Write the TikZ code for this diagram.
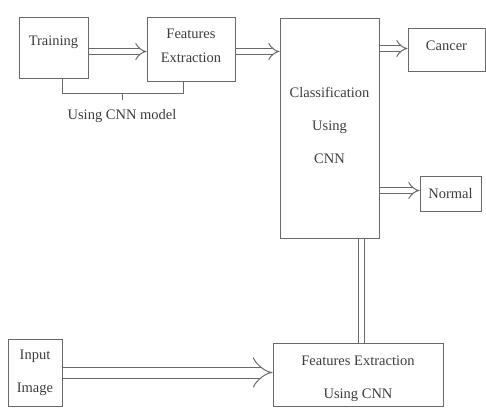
\documentclass[tikz,border=0pt]{standalone}
\usepackage{fontspec}
\setmainfont{Liberation Serif}
\usetikzlibrary{calc,arrows,positioning,backgrounds}
\definecolor{boxgray}{RGB}{105,105,105}
\definecolor{textgray}{RGB}{60,60,60}

\begin{document}
\begin{tikzpicture}[x=1pt,y=-1pt,
  block/.style={rectangle, draw=boxgray, line width=1pt, text=textgray, align=center, inner sep=0pt, font=\fontsize{14.5}{17}\selectfont},
  dblarrow/.style={draw=boxgray, double, double distance=5pt, line width=1pt, -implies}
]
  \useasboundingbox (0,0) rectangle (486,407);

  \node[block, minimum width=69pt, minimum height=61pt, text height=10.5pt, text depth=14pt] (train) at (53.5,47.5) {Training};
  \node[block, minimum width=88pt, minimum height=64pt, font=\fontsize{14.5}{24}\selectfont] (feat) at (191,49) {Features\\Extraction\\[-17pt]};
  \node[block, minimum width=99pt, minimum height=220pt, font=\fontsize{14.5}{33}\selectfont] (cls) at (329.5,128.5) {Classification\\Using\\CNN\\[-26pt]};
  \node[block, minimum width=77pt, minimum height=43pt, text height=10.5pt, text depth=9pt] (cancer) at (446.5,49.5) {Cancer};
  \node[block, minimum width=61pt, minimum height=35pt] (normal) at (450.5,193.5) {Normal};
  \node[block, minimum width=54pt, minimum height=67pt, font=\fontsize{14.5}{33}\selectfont] (input) at (35,372.5) {Input\\Image};
  \node[block, minimum width=170pt, minimum height=63pt, font=\fontsize{14.5}{33}\selectfont] (fcnn) at (358,374.5) {\rule{0pt}{18pt}Features Extraction\\Using CNN};

  % bracket under the training part
  \coordinate (bl) at (62,79);
  \coordinate (br) at (183,82);
  \coordinate (bmid) at (122,93);
  \draw[boxgray, line width=1pt] (bl) -- (bl |- bmid) -- (br |- bmid) -- (br);
  \draw[boxgray, line width=1pt] (bmid) -- ++(0,7) node[below=6pt, text=textgray, font=\fontsize{14.5}{17}\selectfont] (cnnlbl) {Using CNN model};

  \begin{scope}[on background layer]
    \draw[dblarrow] ($(train.east)+(0,4)$) -- ($(train.east -| feat.west)+(0,4)$);
    \draw[dblarrow] ($(feat.east)+(0,2.5)$) -- ($(feat.east -| cls.west)+(0,2.5)$);
    \draw[dblarrow] ($(cancer.west -| cls.east)+(0,-1)$) -- ($(cancer.west)+(0,-1)$);
    \draw[dblarrow] ($(normal.west -| cls.east)+(0,-3)$) -- ($(normal.west)+(0,-3)$);
    \draw[dblarrow, double distance=10pt] (input.east) -- (input.east -| fcnn.west);
    \draw[dblarrow, -] ($(fcnn.north)+(3.5,0)$) -- ($(fcnn.north |- cls.south)+(3.5,0)$);
  \end{scope}
\end{tikzpicture}
\end{document}
